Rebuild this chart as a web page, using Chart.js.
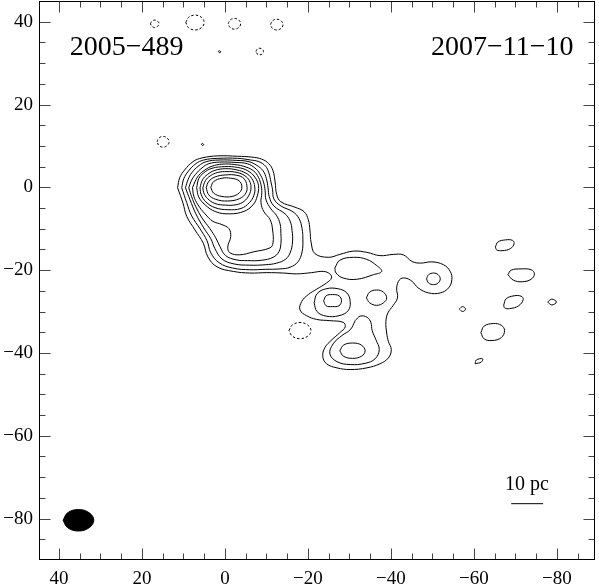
<!DOCTYPE html>
<html>
<head>
<meta charset="utf-8">
<script src="https://cdn.jsdelivr.net/npm/chart.js@4.4.1/dist/chart.umd.min.js"></script>
<style>
  html, body { margin: 0; padding: 0; background: #fff; }
  canvas { display: block; }
</style>
</head>
<body>
<canvas id="map" width="599" height="588"></canvas>
<script>
// axis ticks (mas)
const xTicks = [40, 20, 0, -20, -40, -60, -80];
const yTicks = [40, 20, 0, -20, -40, -60, -80];

const sourceName = '2005\u2212489';
const epoch = '2007\u221211\u221210';
const scaleLabel = '10 pc';

// contour lines, [x, y] in mas
const lev1 = [[11.4,-0.1],[10.9,2.3],[9.7,4.2],[7.7,6.2],[5.5,7.1],[1.7,7.6],[-3.1,7.5],[-6.5,7.3],[-8.9,6.8],[-10.6,5.7],[-11.6,4.0],[-12.1,1.3],[-12.5,-1.8],[-13.5,-3.5],[-16.9,-4.8],[-19.1,-5.9],[-20.1,-7.8],[-20.5,-10.3],[-20.8,-13.4],[-21.7,-16.0],[-24.9,-16.9],[-27.7,-16.2],[-31.0,-15.4],[-34.2,-15.7],[-37.4,-16.5],[-40.6,-16.2],[-43.0,-16.3],[-45.1,-17.9],[-47.1,-18.3],[-49.9,-18.0],[-52.7,-18.7],[-54.3,-20.3],[-54.7,-22.3],[-53.9,-24.3],[-51.9,-25.5],[-49.1,-25.5],[-46.6,-24.3],[-45.1,-22.7],[-43.4,-21.9],[-42.1,-22.3],[-41.4,-24.3],[-41.6,-26.7],[-40.5,-28.6],[-39.3,-30.3],[-38.8,-32.4],[-39.0,-35.2],[-39.4,-37.2],[-40.1,-39.2],[-39.4,-41.2],[-37.4,-42.6],[-34.2,-43.6],[-30.2,-44.0],[-27.0,-43.6],[-24.5,-42.6],[-23.6,-40.9],[-24.1,-38.7],[-25.8,-36.8],[-27.7,-35.1],[-29.0,-33.7],[-28.5,-32.6],[-25.3,-32.2],[-22.1,-31.9],[-19.7,-31.0],[-18.1,-29.6],[-18.5,-27.6],[-20.1,-25.9],[-22.1,-24.6],[-24.5,-23.1],[-25.7,-21.9],[-25.3,-20.9],[-23.7,-20.3],[-20.9,-20.6],[-17.3,-20.9],[-14.1,-20.7],[-10.1,-20.6],[-6.0,-20.7],[-2.0,-20.3],[1.9,-19.2],[4.1,-16.8],[5.2,-13.5],[7.2,-10.3],[9.2,-7.0],[10.1,-3.8],[11.4,-0.1]];
const lev2 = [[10.4,-0.1],[9.9,2.1],[8.8,3.9],[7.0,5.7],[5.1,6.6],[1.7,7.0],[-3.1,7.0],[-6.2,6.6],[-8.2,6.2],[-9.8,5.1],[-10.6,3.5],[-11.1,1.3],[-11.5,-0.6],[-11.8,-2.8],[-13.5,-4.5],[-16.4,-5.9],[-17.9,-7.6],[-18.6,-10.0],[-18.8,-12.7],[-18.6,-15.6],[-17.6,-18.0],[-15.7,-19.3],[-13.3,-19.7],[-9.7,-19.8],[-6.0,-19.9],[-1.9,-19.5],[1.4,-18.2],[3.4,-15.8],[4.3,-12.9],[6.0,-10.0],[8.0,-6.9],[9.2,-3.7],[10.4,-0.1]];
const lev3 = [[9.5,-0.1],[8.9,1.8],[8.0,3.5],[6.3,5.2],[4.5,6.2],[1.4,6.6],[-2.9,6.5],[-5.8,6.2],[-7.7,5.3],[-9.2,4.0],[-10.0,2.1],[-10.4,-0.1],[-10.7,-2.3],[-11.8,-4.5],[-14.5,-6.4],[-15.7,-8.1],[-16.2,-10.5],[-16.3,-13.2],[-15.8,-15.6],[-14.7,-17.3],[-12.5,-18.3],[-9.7,-18.7],[-6.0,-18.8],[-2.2,-18.5],[0.7,-17.3],[2.4,-14.8],[3.4,-12.4],[5.1,-9.8],[7.0,-6.4],[8.4,-3.0],[9.5,-0.1]];
const lev4 = [[8.7,-0.1],[8.1,1.6],[7.1,3.1],[5.5,4.7],[3.9,5.7],[1.2,6.1],[-2.7,6.0],[-5.4,5.7],[-7.2,4.7],[-8.4,3.3],[-9.3,1.3],[-9.7,-0.8],[-9.9,-3.0],[-11.1,-5.2],[-12.5,-6.9],[-13.3,-8.8],[-13.5,-11.2],[-13.5,-13.6],[-13.0,-15.6],[-11.6,-16.9],[-8.9,-17.6],[-5.5,-17.7],[-2.7,-17.5],[-0.2,-16.5],[1.2,-14.3],[2.2,-12.2],[3.6,-10.0],[5.5,-7.4],[7.0,-4.7],[8.0,-2.3],[8.7,-0.1]];
const lev5 = [[7.8,-0.1],[7.2,1.4],[6.3,2.9],[4.8,4.2],[3.1,5.1],[0.7,5.6],[-2.4,5.5],[-5.1,4.9],[-7.0,3.9],[-8.1,2.4],[-8.7,0.6],[-8.9,-1.3],[-8.7,-3.7],[-9.4,-5.9],[-10.9,-7.8],[-11.5,-10.3],[-11.6,-13.4],[-10.9,-14.6],[-6.8,-15.6],[-3.6,-16.3],[-1.2,-15.8],[-0.7,-14.4],[-1.4,-11.9],[-1.0,-10.0],[0.7,-9.0],[2.9,-8.2],[4.8,-6.4],[6.5,-4.2],[7.5,-2.1],[7.8,-0.1]];
const lev6 = [[6.8,-0.1],[6.3,2.1],[5.1,3.5],[3.1,4.6],[0,5.0],[-3.1,4.8],[-5.5,4.0],[-7.2,2.5],[-8.1,0.4],[-7.8,-2.1],[-6.8,-4.2],[-4.6,-5.8],[-1.2,-6.4],[2.2,-5.9],[4.8,-4.2],[6.3,-2.3],[6.8,-0.1]];
const lev7 = [[6.0,-0.1],[5.4,1.8],[4.2,3.1],[2.4,4.1],[-0.2,4.5],[-2.9,4.2],[-5.1,3.4],[-6.5,2.1],[-7.2,0.1],[-7.0,-1.9],[-5.9,-3.7],[-3.9,-5.1],[-0.7,-5.4],[2.4,-4.9],[4.6,-3.5],[5.7,-1.8],[6.0,-0.1]];
const lev8 = [[5.3,-0.1],[4.7,1.6],[3.5,2.8],[1.7,3.6],[-0.5,3.8],[-2.9,3.6],[-4.8,2.8],[-5.9,1.6],[-6.3,-0.1],[-5.8,-1.9],[-4.6,-3.4],[-2.7,-4.2],[-0.2,-4.3],[2.4,-3.9],[4.2,-2.7],[5.1,-1.3],[5.3,-0.1]];
const lev9 = [[4.5,-0.1],[3.9,1.4],[2.4,2.5],[-0.2,3.0],[-2.9,2.9],[-4.6,2.1],[-5.3,0.4],[-5.1,-1.3],[-3.6,-2.7],[-0.7,-3.3],[2.2,-2.9],[3.9,-1.8],[4.5,-0.1]];
const lev10 = [[3.4,0],[2.7,1.4],[0.7,2.2],[-1.4,2.2],[-3.4,1.6],[-4.1,0.1],[-3.5,-1.3],[-1.7,-2.2],[0.7,-2.2],[2.7,-1.4],[3.4,0]];

// south-east components
const knotDrop = [[-26.5,-19.5],[-27.7,-17.6],[-31.0,-16.9],[-34.2,-17.4],[-36.6,-18.9],[-37.8,-20.3],[-35.8,-21.1],[-31.8,-22.2],[-28.5,-21.9],[-26.8,-20.7],[-26.5,-19.5]];
const knotA = [[-21.5,-27.9],[-22.2,-25.7],[-24.4,-24.5],[-27.3,-24.5],[-29.4,-25.5],[-30.2,-27.6],[-29.7,-29.8],[-27.5,-31.0],[-24.4,-31.1],[-22.2,-30.0],[-21.5,-27.9]];
const knotAin = [[-23.8,-27.4],[-24.4,-26.2],[-25.9,-25.9],[-27.5,-26.2],[-28.1,-27.4],[-27.5,-28.6],[-25.9,-28.8],[-24.4,-28.6],[-23.8,-27.4]];
const knotC = [[-34.1,-26.7],[-34.9,-25.3],[-36.6,-24.8],[-38.2,-25.3],[-39.0,-26.7],[-38.2,-27.9],[-36.6,-28.5],[-34.9,-27.9],[-34.1,-26.7]];
const knotE = [[-48.6,-22.1],[-49.1,-21.1],[-50.3,-20.7],[-51.4,-21.1],[-51.9,-22.1],[-51.4,-23.1],[-50.3,-23.5],[-49.1,-23.1],[-48.6,-22.1]];
const lobeB = [[-31.4,-32.2],[-32.6,-31.1],[-34.3,-31.4],[-35.2,-32.7],[-35.5,-34.6],[-36.4,-36.8],[-37.2,-39.2],[-36.2,-41.4],[-33.8,-42.5],[-30.2,-42.8],[-27.0,-42.1],[-25.3,-40.2],[-26.1,-37.8],[-28.2,-35.8],[-30.2,-34.4],[-31.4,-32.2]];
const lobeBin = [[-27.7,-39.5],[-28.6,-38.1],[-30.8,-37.6],[-32.9,-38.1],[-33.8,-39.5],[-32.9,-40.8],[-30.8,-41.3],[-28.6,-40.8],[-27.7,-39.5]];

// isolated positive islands
const isoA = [[-65.2,-14.4],[-65.8,-13.2],[-67.6,-12.7],[-69.3,-12.8],[-69.7,-13.6],[-68.8,-14.8],[-66.8,-15.3],[-65.5,-15.1],[-65.2,-14.4]];
const isoB = [[-68.2,-21.1],[-69.0,-20.0],[-71.4,-19.7],[-73.8,-19.9],[-74.6,-20.9],[-73.8,-22.2],[-71.7,-22.8],[-69.5,-22.4],[-68.2,-21.1]];
const isoC = [[-67.2,-28.4],[-67.8,-26.9],[-69.7,-26.2],[-71.4,-26.3],[-71.9,-27.1],[-70.8,-28.6],[-68.6,-29.3],[-67.4,-29.1],[-67.2,-28.4]];
const isoD = [[-77.8,-27.7],[-78.8,-27.0],[-79.9,-27.7],[-78.8,-28.4],[-77.8,-27.7]];
const isoE = [[-56.5,-29.4],[-57.3,-28.8],[-58.0,-29.4],[-57.3,-30.0],[-56.5,-29.4]];
const isoF = [[-61.7,-35.1],[-62.5,-33.5],[-64.7,-32.9],[-66.6,-33.3],[-67.4,-34.6],[-66.6,-36.3],[-64.4,-37.0],[-62.5,-36.6],[-61.7,-35.1]];
const isoG = [[-60.3,-42.6],[-60.6,-41.7],[-62.1,-41.4],[-61.8,-42.2],[-60.3,-42.6]];
const tinyA = [[1.6,32.8],[1.3,33.0],[1.0,32.7],[1.3,32.5],[1.6,32.8]];
const tinyB = [[5.7,10.4],[5.4,10.6],[5.1,10.3],[5.4,10.1],[5.7,10.4]];

// negative (dashed) contours
const negA = [[17.95,39.5],[17.6,40.1],[16.9,40.4],[16.2,40.1],[15.85,39.5],[16.2,38.9],[16.9,38.6],[17.6,38.9],[17.95,39.5]];
const negB = [[9.4,39.8],[8.75,41.05],[7.2,41.6],[5.65,41.05],[5.0,39.8],[5.65,38.55],[7.2,38.0],[8.75,38.55],[9.4,39.8]];
const negC = [[-0.8,39.5],[-1.25,40.4],[-2.3,40.8],[-3.35,40.4],[-3.8,39.5],[-3.35,38.6],[-2.3,38.2],[-1.25,38.6],[-0.8,39.5]];
const negD = [[-11.0,39.3],[-11.45,40.2],[-12.5,40.6],[-13.55,40.2],[-14.0,39.3],[-13.55,38.4],[-12.5,38.0],[-11.45,38.4],[-11.0,39.3]];
const negE = [[-7.5,32.8],[-7.75,33.35],[-8.4,33.6],[-9.05,33.35],[-9.3,32.8],[-9.05,32.25],[-8.4,32.0],[-7.75,32.25],[-7.5,32.8]];
const negF = [[16.35,11.0],[15.9,11.9],[14.9,12.3],[13.9,11.9],[13.45,11.0],[13.9,10.1],[14.9,9.7],[15.9,10.1],[16.35,11.0]];
const negG = [[-15.45,-34.6],[-16.25,-33.25],[-18.1,-32.65],[-19.95,-33.25],[-20.75,-34.6],[-19.95,-35.95],[-18.1,-36.55],[-16.25,-35.95],[-15.45,-34.6]];

// restoring beam and linear scale bar
const beam = [[39.0,-80.4],[37.9,-78.6],[35.3,-77.8],[32.7,-78.6],[31.6,-80.4],[32.7,-82.2],[35.3,-83.0],[37.9,-82.2],[39.0,-80.4]];
const scaleBar = [[-69.0,-76.4],[-76.7,-76.4]];

const positive = [lev1, lev2, lev3, lev4, lev5, lev6, lev7, lev8, lev9, lev10,
    knotDrop, knotA, knotAin, knotC, knotE, lobeB, lobeBin,
    isoA, isoB, isoC, isoD, isoE, isoF, isoG, tinyA, tinyB];
const negative = [negA, negB, negC, negD, negE, negF, negG];

const serif = '"Liberation Serif", "Times New Roman", serif';

function contour(points, dashed) {
    return {
        data: points.map(([x, y]) => ({ x, y })),
        showLine: true,
        pointRadius: 0,
        borderColor: '#000',
        borderWidth: 1,
        borderDash: dashed ? [2.5, 2] : [],
        tension: 0.4,
        fill: false
    };
}

const datasets = positive.map(p => contour(p, false))
    .concat(negative.map(p => contour(p, true)));
datasets.push({
    data: beam.map(([x, y]) => ({ x, y })),
    showLine: true, pointRadius: 0, borderColor: '#000', borderWidth: 1,
    backgroundColor: '#000', tension: 0.4, fill: 'shape'
});
datasets.push({
    data: scaleBar.map(([x, y]) => ({ x, y })),
    showLine: true, pointRadius: 0, borderColor: '#000', borderWidth: 1, tension: 0
});

const minus = v => String(v).replace('-', '\u2212');

// frame with inward ticks on all four sides, plus the text labels
const frameTicks = {
    id: 'frameTicks',
    afterDraw(chart) {
        const { ctx, chartArea: a, scales: { x, y } } = chart;
        const L = Math.round(a.left) + 0.5, R = Math.round(a.right) - 0.5;
        const T = Math.round(a.top) + 0.5, B = Math.round(a.bottom) - 0.5;
        ctx.save();
        ctx.lineWidth = 1;
        ctx.strokeStyle = '#444';
        ctx.beginPath();
        for (let v = -85; v <= 40; v += 5) {
            const len = v % 20 === 0 ? 11 : 6;
            const px = Math.round(x.getPixelForValue(v)) + 0.5;
            ctx.moveTo(px, B); ctx.lineTo(px, B - len);
            ctx.moveTo(px, T); ctx.lineTo(px, T + len);
        }
        for (let v = -85; v <= 40; v += 5) {
            const len = v % 20 === 0 ? 11 : 6;
            const py = Math.round(y.getPixelForValue(v)) + 0.5;
            ctx.moveTo(L, py); ctx.lineTo(L + len, py);
            ctx.moveTo(R, py); ctx.lineTo(R - len, py);
        }
        ctx.stroke();
        ctx.strokeStyle = '#000';
        ctx.strokeRect(L, T, R - L, B - T);

        ctx.fillStyle = '#000';
        ctx.textBaseline = 'alphabetic';
        ctx.font = '28px ' + serif;
        ctx.textAlign = 'left';
        ctx.fillText(sourceName, x.getPixelForValue(37.4), y.getPixelForValue(32.0));
        ctx.textAlign = 'right';
        ctx.fillText(epoch, x.getPixelForValue(-84.0), y.getPixelForValue(32.0));
        ctx.font = '20px ' + serif;
        ctx.textAlign = 'center';
        ctx.fillText(scaleLabel, x.getPixelForValue(-72.8), y.getPixelForValue(-73.1));
        ctx.restore();
    }
};

new Chart(document.getElementById('map'), {
    type: 'scatter',
    data: { datasets: datasets },
    options: {
        responsive: false,
        animation: false,
        devicePixelRatio: 1,
        layout: { padding: { top: 1, right: 4, left: 0, bottom: 0 } },
        plugins: { legend: { display: false }, tooltip: { enabled: false } },
        scales: {
            x: {
                type: 'linear',
                reverse: true,
                min: -89.2,
                max: 44.8,
                grid: { display: false, drawTicks: false },
                border: { display: false },
                afterBuildTicks: s => { s.ticks = xTicks.map(v => ({ value: v })); },
                afterFit: s => { s.height = 28; s.paddingLeft = 0; s.paddingRight = 0; },
                ticks: {
                    autoSkip: false, maxRotation: 0, padding: 8,
                    color: '#000', font: { family: serif, size: 19 },
                    callback: minus
                }
            },
            y: {
                type: 'linear',
                min: -90,
                max: 45,
                grid: { display: false, drawTicks: false },
                border: { display: false },
                afterBuildTicks: s => { s.ticks = yTicks.map(v => ({ value: v })); },
                afterFit: s => { s.width = 39; s.paddingTop = 0; s.paddingBottom = 0; },
                ticks: {
                    autoSkip: false, padding: 6,
                    color: '#000', font: { family: serif, size: 19 },
                    callback: minus
                }
            }
        }
    },
    plugins: [frameTicks]
});
</script>
</body>
</html>
